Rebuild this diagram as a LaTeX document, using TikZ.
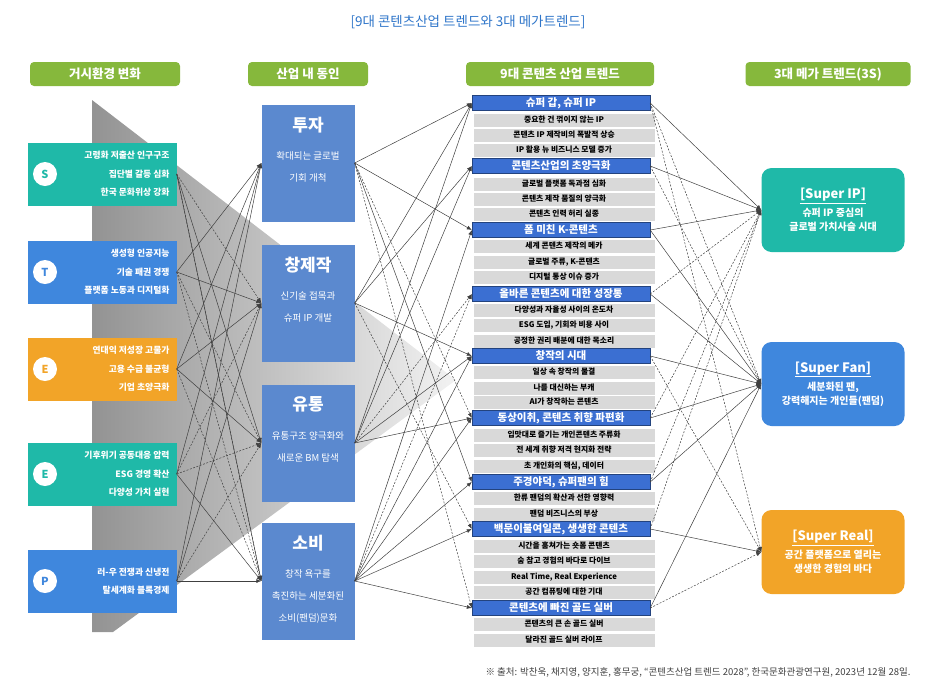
\documentclass[tikz,border=0pt]{standalone}
\usepackage{fontspec}
\setmainfont{Noto Sans CJK KR}
\usetikzlibrary{arrows.meta, positioning, shapes.geometric}

\definecolor{teal1}{HTML}{1FB9A8}
\definecolor{blue1}{HTML}{3F87DD}
\definecolor{orange1}{HTML}{F2A428}
\definecolor{green1}{HTML}{86B83C}
\definecolor{steel}{HTML}{5B89CF}
\definecolor{hdrblue}{HTML}{3B6FD2}
\definecolor{rowgray}{HTML}{D9D9D9}
\definecolor{titleblue}{HTML}{2E75C9}

\tikzset{
  pill/.style={fill=green1, rounded corners=4pt, text=white, font=\bfseries\fontsize{12.5}{13}\selectfont, minimum height=24pt},
  envbox/.style={minimum width=149pt, minimum height=63pt, inner sep=0pt},
  letter/.style={circle, fill=white, minimum size=24pt, inner sep=0pt, font=\bfseries\fontsize{11}{11}\selectfont},
  envtext/.style={anchor=east, align=right, text=white, font=\bfseries\fontsize{8.8}{18.5}\selectfont},
  driver/.style={fill=steel, minimum width=93pt, minimum height=117pt, inner sep=0pt},
  trendhdr/.style={fill=hdrblue, draw=hdrblue!60!black, minimum width=178pt, minimum height=15pt, inner sep=0pt, text=white, font=\bfseries\fontsize{10.5}{11}\selectfont},
  trendrow/.style={fill=rowgray, minimum width=181pt, minimum height=13pt, inner sep=0pt, font=\bfseries\fontsize{7.8}{8}\selectfont},
  mega/.style={rounded corners=10pt, minimum width=143pt, minimum height=84pt, text=white, align=center, font=\bfseries\fontsize{10}{14}\selectfont},
  link/.style={draw=black!75, line width=0.5pt, -{Latex[length=5pt,width=4pt]}},
  dlink/.style={link, dashed, dash pattern=on 2pt off 1.5pt}
}

\begin{document}
\begin{tikzpicture}[x=1pt, y=-1pt]
\useasboundingbox (0,0) rectangle (936,697);

% Title
\node[text=titleblue, font=\fontsize{13.5}{15}\selectfont] (title) at (468,22) {[9대 콘텐츠산업 트렌드와 3대 메가트렌드]};

% Column headers
\node[pill, minimum width=150pt] (p1) at (105,74) {거시환경 변화};
\node[pill, minimum width=120pt] (p2) at (308,74) {산업 내 동인};
\node[pill, minimum width=188pt] (p3) at (560,74) {9대 콘텐츠 산업 트렌드};
\node[pill, minimum width=165pt] (p4) at (828,74) {3대 메가 트렌드(3S)};

% Gray funnel
\shade[left color=gray!85, right color=gray!10] (92,100) -- (456,380) -- (113,632) -- (92,632) -- cycle;

% Macro environment boxes
\foreach \n/\y/\c/\l/\t in {
  1/174/teal1/S/{고령화 저출산 인구구조\\집단별 갈등 심화\\한국 문화위상 강화},
  2/272/blue1/T/{생성형 인공지능\\기술 패권 경쟁\\플랫폼 노동과 디지털화},
  3/369/orange1/E/{연대익 저성장 고물가\\고용 수급 불균형\\기업 초양극화},
  4/474/teal1/E/{기후위기 공동대응 압력\\ESG 경영 확산\\다양성 가치 실현},
  5/581/blue1/P/{러-우 전쟁과 신냉전\\탈세계화 블록경제}} {
  \node[envbox, fill=\c] (l\n) at (102,\y) {};
  \node[letter, text=\c] (c\n) at (45,\y) {\l};
  \node[envtext] (lt\n) at (173,\y) {\t};
}

% Industry drivers
\foreach \n/\y/\h/\t in {
  1/163/투자/{확대되는 글로벌\\기회 개척},
  2/303/창제작/{신기술 접목과\\슈퍼 IP 개발},
  3/443/유통/{유통구조 양극화와\\새로운 BM 탐색},
  4/581/소비/{창작 욕구를\\촉진하는 세분화된\\소비(팬덤)문화}} {
  \node[driver] (m\n) at (308,\y) {};
  \node[text=white, font=\bfseries\fontsize{17}{19}\selectfont, below=9pt of m\n.north] (mh\n) {\h};
  \node[text=white, align=center, font=\fontsize{9.5}{22}\selectfont, below=12pt of mh\n] (ms\n) {\t};
}

% Nine trends
\foreach \n/\y/\h in {1/103/{슈퍼 갑, 슈퍼 IP}, 2/166/콘텐츠산업의 초양극화, 3/230/{폼 미친 K-콘텐츠},
  4/294/올바른 콘텐츠에 대한 성장통, 5/356/창작의 시대, 6/418/{동상이취, 콘텐츠 취향 파편화},
  7/482/{주경야덕, 슈퍼팬의 힘}, 8/529/{백문이불여일콘, 생생한 콘텐츠}, 9/608/콘텐츠에 빠진 골드 실버}
  \node[trendhdr] (t\n) at (561,\y) {\h};

\foreach \y/\t in {120/중요한 건 꺾이지 않는 IP, 135/콘텐츠 IP 제작비의 폭발적 상승, 150/IP 활용 뉴 비즈니스 모델 증가,
  184/글로벌 플랫폼 독과점 심화, 199/콘텐츠 제작 품질의 양극화, 214/콘텐츠 인력 허리 실종,
  246/세계 콘텐츠 제작의 메카, 262/{글로벌 주류, K-콘텐츠}, 277/디지털 통상 이슈 증가,
  310/다양성과 자율성 사이의 온도차, 325/{ESG 도입, 기회와 비용 사이}, 341/공정한 권리 배분에 대한 목소리,
  372/일상 속 창작의 물결, 388/나를 대신하는 부캐, 402/AI가 창작하는 콘텐츠,
  435/입맛대로 즐기는 개인콘텐츠 주류화, 450/전 세계 취향 저격 현지화 전략, 466/{초 개인화의 핵심, 데이터},
  498/한류 팬덤의 확산과 선한 영향력, 514/팬덤 비즈니스의 부상,
  546/시간을 훔쳐가는 숏폼 콘텐츠, 561/숨 참고 경험의 바다로 다이브, 577/{Real Time, Real Experience}, 592/공간 컴퓨팅에 대한 기대,
  624/콘텐츠의 큰 손 골드 실버, 640/달라진 골드 실버 라이프}
  \node[trendrow] at (564,\y) {\t};

% Mega trends
\node[mega, fill=teal1] (s1) at (833,210) {\fontsize{13}{17}\selectfont\underline{[Super IP]}\\[4pt]슈퍼 IP 중심의\\글로벌 가치사슬 시대};
\node[mega, fill=blue1] (s2) at (833,384) {\fontsize{13}{17}\selectfont\underline{[Super Fan]}\\[4pt]세분화된 팬,\\강력해지는 개인들(팬덤)};
\node[mega, fill=orange1] (s3) at (833,552) {\fontsize{13}{17}\selectfont\underline{[Super Real]}\\[4pt]공간 플랫폼으로 열리는\\생생한 경험의 바다};

% Environment -> drivers
\foreach \a/\b in {1/3, 1/4, 2/1, 2/2, 3/1, 3/2, 3/3, 4/1, 4/4, 5/1, 5/2, 5/4}
  \draw[link] (l\a.east) -- (m\b.west);
\foreach \a/\b in {1/2, 1/4, 2/3, 2/4, 3/4, 4/2, 4/3, 5/3}
  \draw[dlink] (l\a.east) -- (m\b.west);

% Drivers -> trends
\foreach \a/\b in {1/1, 1/3, 1/7, 2/1, 2/2, 2/5, 3/1, 3/2, 3/5, 3/6, 4/3, 4/5, 4/6, 4/7, 4/8, 4/9}
  \draw[link] (m\a.east) -- (t\b.west);
\foreach \a/\b in {1/6, 1/9, 2/8, 3/4, 4/4}
  \draw[dlink] (m\a.east) -- (t\b.west);

% Trends -> mega trends
\foreach \a/\b in {1/1, 2/1, 3/1, 3/2, 4/2, 5/2, 6/2, 7/2, 8/3, 9/2}
  \draw[link] (t\a.east) -- (s\b.west);
\foreach \a/\b in {1/2, 1/3, 2/2, 4/1, 5/3, 6/1, 7/1, 8/1, 9/3}
  \draw[dlink] (t\a.east) -- (s\b.west);

% Source
\node[anchor=east, text=black!75, font=\fontsize{9.5}{11}\selectfont] (src) at (914,672) {※ 출처: 박찬욱, 채지영, 양지훈, 홍무궁, “콘텐츠산업 트렌드 2028”, 한국문화관광연구원, 2023년 12월 28일.};
\end{tikzpicture}
\end{document}
